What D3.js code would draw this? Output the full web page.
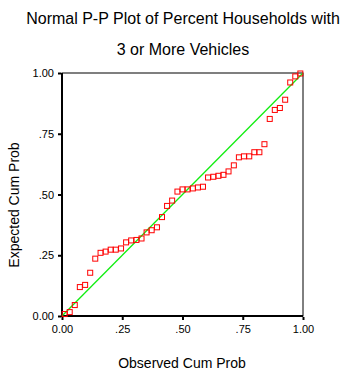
<!DOCTYPE html>
<html>
<head>
<meta charset="utf-8">
<script src="https://cdn.jsdelivr.net/npm/d3@7"></script>
<style>
  body { margin: 0; background: #fff; }
  svg { display: block; font-family: Arial, "Liberation Sans", sans-serif; }
</style>
</head>
<body>
<div id="app"></div>
<script>
// Observed vs expected cumulative probabilities
const observed = [
  .011, .032, .053, .074, .096, .117, .138, .160, .181, .202,
  .223, .245, .266, .287, .309, .330, .351, .372, .394, .415,
  .436, .457, .479, .500, .521, .543, .564, .585, .606, .628,
  .649, .670, .691, .713, .734, .755, .777, .798, .819, .840,
  .862, .883, .904, .926, .947, .968, .989
];
const expected = [
  .008, .016, .045, .119, .128, .178, .236, .260, .265, .273,
  .273, .278, .303, .311, .313, .319, .344, .353, .365, .407,
  .453, .475, .512, .521, .521, .525, .529, .532, .570, .573,
  .577, .581, .595, .620, .653, .657, .657, .674, .674, .707,
  .811, .848, .856, .890, .961, .986, .998
];
const tickValues = [0, .25, .5, .75, 1];
const tickLabels = ["0.00", ".25", ".50", ".75", "1.00"];

const titleLines = ["Normal P-P Plot of Percent Households with", "3 or More Vehicles"];

const width = 362, height = 375;
const plot = { left: 62, right: 303, top: 73, bottom: 316 };

const points = observed.map((x, i) => ({ x, y: expected[i] }));

const x = d3.scaleLinear().domain([0, 1]).range([plot.left, plot.right]);
const y = d3.scaleLinear().domain([0, 1]).range([plot.bottom, plot.top]);

const svg = d3.select("#app").append("svg")
  .attr("width", width)
  .attr("height", height);

// Title
svg.append("g")
  .selectAll("text")
  .data(titleLines)
  .join("text")
  .attr("x", 183)
  .attr("y", (d, i) => 24 + i * 31)
  .attr("text-anchor", "middle")
  .attr("font-size", "16px")
  .attr("fill", "#000")
  .text(d => d);

// Axes
const fmt = d => tickLabels[tickValues.indexOf(d)];

const yAxis = svg.append("g")
  .attr("transform", `translate(${plot.left - 1},0)`)
  .call(d3.axisLeft(y).tickValues(tickValues).tickFormat(fmt).tickSize(3).tickPadding(4));

const xAxis = svg.append("g")
  .attr("transform", `translate(0,${plot.bottom + 1})`)
  .call(d3.axisBottom(x).tickValues(tickValues).tickFormat(fmt).tickSize(3).tickPadding(5));

[xAxis, yAxis].forEach(a => {
  a.select(".domain").remove();
  a.selectAll(".tick line").attr("stroke", "#000").attr("stroke-width", 2);
  a.selectAll(".tick text")
    .attr("fill", "#000")
    .style("font-size", "11px")
    .style("font-family", "Arial, 'Liberation Sans', sans-serif");
});

// Frame
svg.append("rect")
  .attr("x", plot.left)
  .attr("y", plot.top)
  .attr("width", plot.right - plot.left)
  .attr("height", plot.bottom - plot.top)
  .attr("fill", "none")
  .attr("stroke", "#000")
  .attr("stroke-width", 1);

svg.append("line")
  .attr("x1", plot.left).attr("x2", plot.left)
  .attr("y1", plot.top).attr("y2", plot.bottom + 1)
  .attr("stroke", "#000").attr("stroke-width", 2);

svg.append("line")
  .attr("x1", plot.left - 1).attr("x2", plot.right)
  .attr("y1", plot.bottom).attr("y2", plot.bottom)
  .attr("stroke", "#000").attr("stroke-width", 2);

// Reference line
svg.append("line")
  .attr("x1", x(0)).attr("y1", y(0))
  .attr("x2", x(1)).attr("y2", y(1))
  .attr("stroke", "#11ee11")
  .attr("stroke-width", 1.3);

// Points
svg.append("g")
  .attr("fill", "none")
  .attr("stroke", "#ff0000")
  .attr("stroke-width", 1)
  .selectAll("rect")
  .data(points)
  .join("rect")
  .attr("x", d => x(d.x) - 2.5)
  .attr("y", d => y(d.y) - 2.5)
  .attr("width", 5)
  .attr("height", 5);

// Axis titles
svg.append("text")
  .attr("x", 182)
  .attr("y", 368)
  .attr("text-anchor", "middle")
  .attr("font-size", "14px")
  .text("Observed Cum Prob");

svg.append("text")
  .attr("transform", `translate(19,205) rotate(-90)`)
  .attr("text-anchor", "middle")
  .attr("font-size", "14px")
  .text("Expected Cum Prob");
</script>
</body>
</html>
